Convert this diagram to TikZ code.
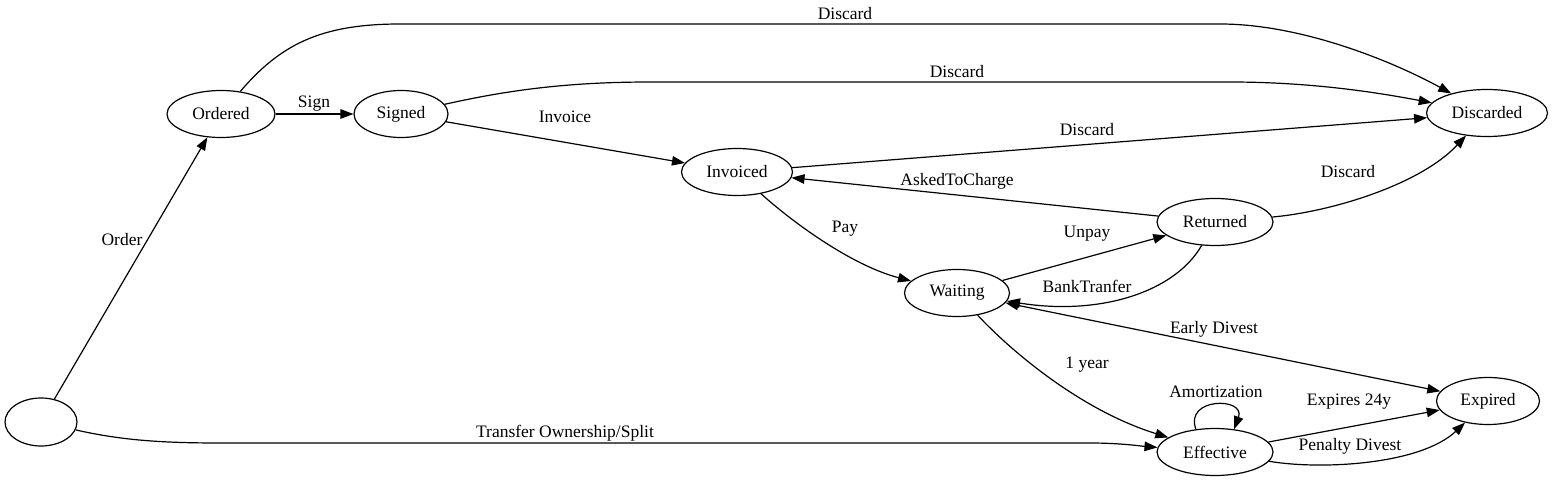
\documentclass[tikz,border=0pt]{standalone}
\usepackage{fontspec}
\setmainfont{Liberation Serif}
\usetikzlibrary{shapes.geometric,arrows.meta}
\begin{document}
\begin{tikzpicture}[x=1pt,y=-1pt,
  state/.style={ellipse,draw,line width=1.2pt,inner sep=0pt,minimum height=47pt,font=\fontsize{17.5}{20}\selectfont},
  lbl/.style={inner sep=0pt,font=\fontsize{17.5}{20}\selectfont},
  conn/.style={line width=1.2pt,-{Triangle[length=13pt,width=9.5pt]}},
  bconn/.style={line width=1.2pt,{Triangle[length=13pt,width=9.5pt]}-{Triangle[length=13pt,width=9.5pt]}}]
\useasboundingbox (0,0) rectangle (1556,481);
\fill[white] (0,0) rectangle (1556,481);
% states
\node[state,minimum width=72pt,minimum height=48pt] (start) at (41,422) {};
\node[state,minimum width=108pt] (ordered) at (221,114) {Ordered};
\node[state,minimum width=94pt] (signed) at (401,114) {Signed};
\node[state,minimum width=111pt] (invoiced) at (737,172) {Invoiced};
\node[state,minimum width=121pt] (discarded) at (1487,113) {Discarded};
\node[state,minimum width=116pt] (returned) at (1215,222) {Returned};
\node[state,minimum width=105pt] (waiting) at (957,293) {Waiting};
\node[state,minimum width=116pt] (effective) at (1215,452) {Effective};
\node[state,minimum width=103pt] (expired) at (1488,401) {Expired};
% connectors
\draw[conn] (start) -- (ordered);
\draw[conn] (start) .. controls (120,440) and (160,443) .. (220,443) -- (1090,443) .. controls (1120,443) and (1140,446) .. (effective);
\draw[conn] (ordered) -- (signed);
\draw[conn] (ordered) .. controls (280,45) and (320,24) .. (400,24) -- (1220,24) .. controls (1300,24) and (1390,60) .. (discarded);
\draw[conn] (signed) .. controls (500,92) and (560,82) .. (650,82) -- (1230,82) .. controls (1320,82) and (1390,95) .. (discarded);
\draw[conn] (signed) -- (invoiced);
\draw[conn] (invoiced) -- (discarded);
\draw[conn] (returned) -- (invoiced);
\draw[conn] (returned) .. controls (1330,212) and (1420,185) .. (discarded);
\draw[conn] (invoiced) .. controls (790,220) and (850,265) .. (waiting);
\draw[conn] (waiting) -- (returned);
\draw[conn] (returned) .. controls (1175,292) and (1100,316) .. (waiting);
\draw[bconn] (waiting) -- (expired);
\draw[conn] (waiting) .. controls (1010,350) and (1080,410) .. (effective);
\draw[conn] (effective.130) .. controls (1184,397) and (1246,397) .. (effective.50);
\draw[conn] (effective) -- (expired);
\draw[conn] (effective) .. controls (1320,470) and (1420,465) .. (expired);
% labels
\node[lbl] (l-order) at (122,240) {Order};
\node[lbl] (l-sign) at (314,104) {Sign};
\node[lbl] (l-disc1) at (845,14) {Discard};
\node[lbl] (l-disc2) at (957,72) {Discard};
\node[lbl] (l-invoice) at (565,117) {Invoice};
\node[lbl] (l-disc3) at (1087,130) {Discard};
\node[lbl] (l-asked) at (957,181) {AskedToCharge};
\node[lbl] (l-disc4) at (1348,172) {Discard};
\node[lbl] (l-pay) at (845,229) {Pay};
\node[lbl] (l-unpay) at (1087,234) {Unpay};
\node[lbl] (l-bank) at (1087,286) {BankTranfer};
\node[lbl] (l-early) at (1214,329) {Early Divest};
\node[lbl] (l-year) at (1087,365) {1 year};
\node[lbl] (l-amort) at (1216,392) {Amortization};
\node[lbl] (l-exp24) at (1349,402) {Expires 24y};
\node[lbl] (l-penalty) at (1350,446) {Penalty Divest};
\node[lbl] (l-transfer) at (565,433) {Transfer Ownership/Split};
\end{tikzpicture}
\end{document}
